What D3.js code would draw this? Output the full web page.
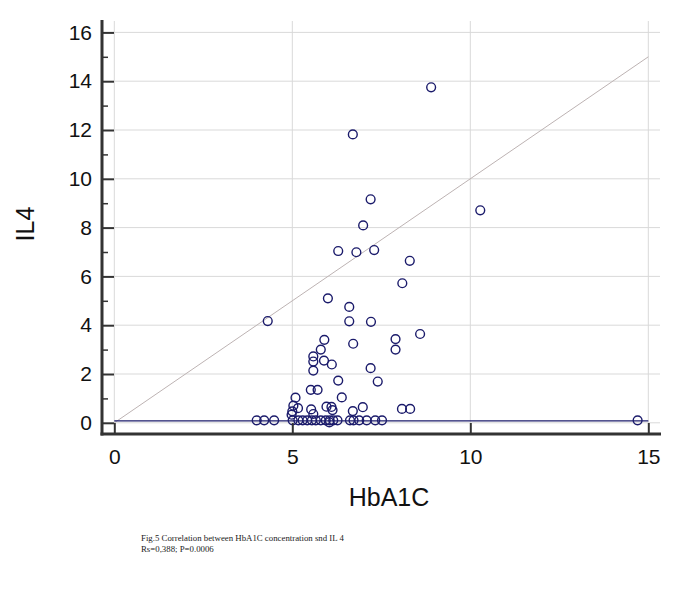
<!DOCTYPE html>
<html>
<head>
<meta charset="utf-8">
<script src="https://cdn.jsdelivr.net/npm/d3@7"></script>
<style>
  html, body { margin: 0; padding: 0; background: #fff; }
  svg { display: block; }
</style>
</head>
<body>
<svg id="chart" width="693" height="602"></svg>
<script>
// ---- data ----
const hba1c = [
  8.90, 6.70, 7.20, 10.28, 6.99, 6.29, 6.80, 7.30, 8.30, 8.09,
  6.00, 6.60, 6.60, 7.21, 4.31, 8.59, 5.90, 7.90, 6.71, 5.80,
  7.90, 5.59, 5.59, 5.89, 6.11, 5.59, 7.20, 6.29, 7.40, 5.52,
  5.71, 6.39, 5.09, 5.03, 5.16, 5.00, 4.98, 5.53, 5.59, 5.96,
  6.10, 6.13, 6.70, 6.98, 8.08, 8.31,
  4.00, 4.21, 4.49, 5.01, 5.17, 5.29, 5.42, 5.55, 5.66, 5.80,
  5.94, 6.05, 6.15, 6.27, 6.62, 6.72, 6.88, 7.09, 7.33, 7.52,
  14.70, 6.04
];
const il4 = [
  13.75, 11.82, 9.16, 8.71, 8.09, 7.04, 6.99, 7.08, 6.64, 5.72,
  5.10, 4.75, 4.16, 4.14, 4.17, 3.64, 3.40, 3.43, 3.24, 3.00,
  3.00, 2.72, 2.51, 2.55, 2.39, 2.14, 2.24, 1.73, 1.69, 1.35,
  1.35, 1.04, 1.03, 0.70, 0.60, 0.47, 0.33, 0.55, 0.36, 0.66,
  0.65, 0.52, 0.48, 0.64, 0.57, 0.57,
  0.10, 0.10, 0.10, 0.10, 0.10, 0.10, 0.10, 0.10, 0.10, 0.10,
  0.10, 0.10, 0.10, 0.10, 0.10, 0.10, 0.10, 0.10, 0.10, 0.10,
  0.10, 0.02
];
const xTicks = [0, 5, 10, 15];
const yTicks = [0, 2, 4, 6, 8, 10, 12, 14, 16];
const yMinorTicks = [1, 3, 5, 7, 9, 11, 13, 15];
const identityLine = [[0, 0], [15, 15]];
const fitLine = [[0, 0.08], [15, 0.08]];
const xTitle = "HbA1C";
const yTitle = "IL4";
const captionLines = [
  "Fig.5 Correlation between HbA1C concentration snd IL 4",
  "Rs=0,388; P=0.0006"
];

// ---- drawing ----
const svg = d3.select("#chart");
const x = d3.scaleLinear().domain([0, 15]).range([114.3, 648.3]);
const y = d3.scaleLinear().domain([0, 16]).range([422.8, 32.4]);
const axisX = 102, axisY = 434;
const plotRight = 660, plotTop = 21;
const gridColor = "#d9d9d9";
const navy = "#1b1b6b";
const font = "Liberation Sans, Arial, sans-serif";

// gridlines
svg.append("g").selectAll("line.h").data(yTicks).join("line")
  .attr("x1", x(0)).attr("x2", plotRight)
  .attr("y1", d => y(d)).attr("y2", d => y(d))
  .attr("stroke", gridColor).attr("stroke-width", 1);
svg.append("g").selectAll("line.v").data(xTicks).join("line")
  .attr("x1", d => x(d)).attr("x2", d => x(d))
  .attr("y1", plotTop).attr("y2", y(0))
  .attr("stroke", gridColor).attr("stroke-width", 1);

// identity line
const line = d3.line().x(d => x(d[0])).y(d => y(d[1]));
svg.append("path").datum(identityLine).attr("d", line)
  .attr("fill", "none").attr("stroke", "#bdb3b3").attr("stroke-width", 1);

// fit line
svg.append("path").datum(fitLine).attr("d", line)
  .attr("fill", "none").attr("stroke", navy).attr("stroke-width", 1.3);

// points
svg.append("g").selectAll("circle").data(d3.range(hba1c.length)).join("circle")
  .attr("cx", i => x(hba1c[i])).attr("cy", i => y(il4[i]))
  .attr("r", 4.4)
  .attr("fill", "none").attr("stroke", navy).attr("stroke-width", 1.4);

// y axis
const yAxis = d3.axisLeft(y).tickValues(yTicks).tickSizeInner(-12).tickSizeOuter(0).tickPadding(10);
const gy = svg.append("g").attr("transform", `translate(${axisX},0)`).call(yAxis);
gy.select(".domain").remove();
gy.selectAll(".tick line").attr("stroke", "#333").attr("stroke-width", 2);
gy.selectAll(".tick text").attr("font-family", font).attr("font-size", 21).attr("fill", "#111");

const yMinor = d3.axisLeft(y).tickValues(yMinorTicks).tickSizeInner(-6).tickSizeOuter(0).tickFormat("");
const gym = svg.append("g").attr("transform", `translate(${axisX},0)`).call(yMinor);
gym.select(".domain").remove();
gym.selectAll(".tick line").attr("stroke", "#333").attr("stroke-width", 1.5);

// x axis
const xAxis = d3.axisBottom(x).tickValues(xTicks).tickSizeInner(-11).tickSizeOuter(0).tickPadding(15);
const gx = svg.append("g").attr("transform", `translate(0,${axisY})`).call(xAxis);
gx.select(".domain").remove();
gx.selectAll(".tick line").attr("stroke", "#333").attr("stroke-width", 2);
gx.selectAll(".tick text").attr("font-family", font).attr("font-size", 21).attr("fill", "#111");

// axis lines
svg.append("line").attr("x1", axisX).attr("x2", axisX).attr("y1", 20).attr("y2", axisY + 1.5)
  .attr("stroke", "#333").attr("stroke-width", 3);
svg.append("line").attr("x1", axisX - 1.5).attr("x2", 661).attr("y1", axisY).attr("y2", axisY)
  .attr("stroke", "#333").attr("stroke-width", 3);

// titles
svg.append("text").attr("x", 389).attr("y", 506).attr("text-anchor", "middle")
  .attr("font-family", font).attr("font-size", 25).attr("fill", "#111").text(xTitle);
svg.append("text").attr("transform", "translate(34,224) rotate(-90)").attr("text-anchor", "middle")
  .attr("font-family", font).attr("font-size", 25).attr("fill", "#111").text(yTitle);

// caption
svg.append("g").selectAll("text").data(captionLines).join("text")
  .attr("x", 141).attr("y", (d, i) => 541 + i * 11)
  .attr("font-family", "Liberation Serif, Times New Roman, serif").attr("font-size", 8.8)
  .attr("fill", "#222").text(d => d);
</script>
</body>
</html>
